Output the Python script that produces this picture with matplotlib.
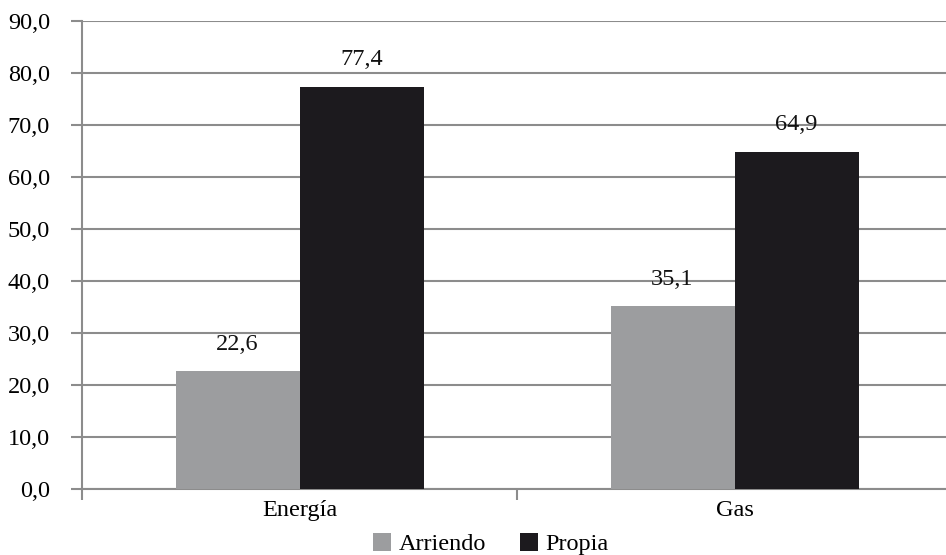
import matplotlib
matplotlib.use("Agg")
import matplotlib.pyplot as plt
import numpy as np
from matplotlib.ticker import FuncFormatter, FixedLocator

categories = ["Energía", "Gas"]
series_names = ["Arriendo", "Propia"]
arriendo = [22.6, 35.1]
propia = [77.4, 64.9]
y_ticks = [0, 10, 20, 30, 40, 50, 60, 70, 80, 90]

colors = ["#9c9d9f", "#1c1a1e"]
grid_color = "#8c8c8c"

plt.rcParams["font.family"] = ["Liberation Serif", "DejaVu Serif"]
FS = 17.5

W, H = 946, 555
fig = plt.figure(figsize=(W / 100, H / 100), dpi=100)
ax = fig.add_axes([82 / W, (H - 489) / H, 870 / W, (489 - 21) / H])

x = np.arange(len(categories))
bw = 124 / 435
b1 = ax.bar(x - bw / 2, arriendo, bw, color=colors[0], label=series_names[0], zorder=3)
b2 = ax.bar(x + bw / 2, propia, bw, color=colors[1], label=series_names[1], zorder=3)

for bars, vals in ((b1, arriendo), (b2, propia)):
    for rect, v in zip(bars, vals):
        ax.annotate(f"{v:.1f}".replace(".", ","),
                    (rect.get_x() + rect.get_width() / 2, v),
                    xytext=(0, 12), textcoords="offset points",
                    ha="center", va="bottom", fontsize=FS, color="#111111", zorder=4)

ax.set_xlim(-0.5, 1.5)
ax.set_ylim(0, 90)
ax.set_yticks(y_ticks)
ax.yaxis.set_major_formatter(FuncFormatter(lambda v, p: f"{v:.1f}".replace(".", ",")))
ax.grid(axis="y", color=grid_color, linewidth=1.5, zorder=0)
ax.set_xticks(x)
ax.set_xticklabels(categories)
ax.xaxis.set_minor_locator(FixedLocator([-0.5, 0.5, 1.5]))
ax.tick_params(axis="x", which="major", length=0, pad=8, labelsize=FS)
ax.tick_params(axis="x", which="minor", length=8, width=1.5, color=grid_color)
ax.tick_params(axis="y", length=8, width=1.5, color=grid_color, labelsize=FS, pad=15)

for s in ("top", "right"):
    ax.spines[s].set_visible(False)
for s in ("left", "bottom"):
    ax.spines[s].set_color(grid_color)
    ax.spines[s].set_linewidth(1.5)

leg = fig.legend(handles=[b1, b2], labels=series_names, loc="center",
                 bbox_to_anchor=(491 / W, (H - 544) / H), ncol=2, frameon=False,
                 fontsize=FS, handlelength=0.75, handleheight=0.75,
                 handletextpad=0.3, columnspacing=1.4)

fig.savefig("out.png", dpi=100)
